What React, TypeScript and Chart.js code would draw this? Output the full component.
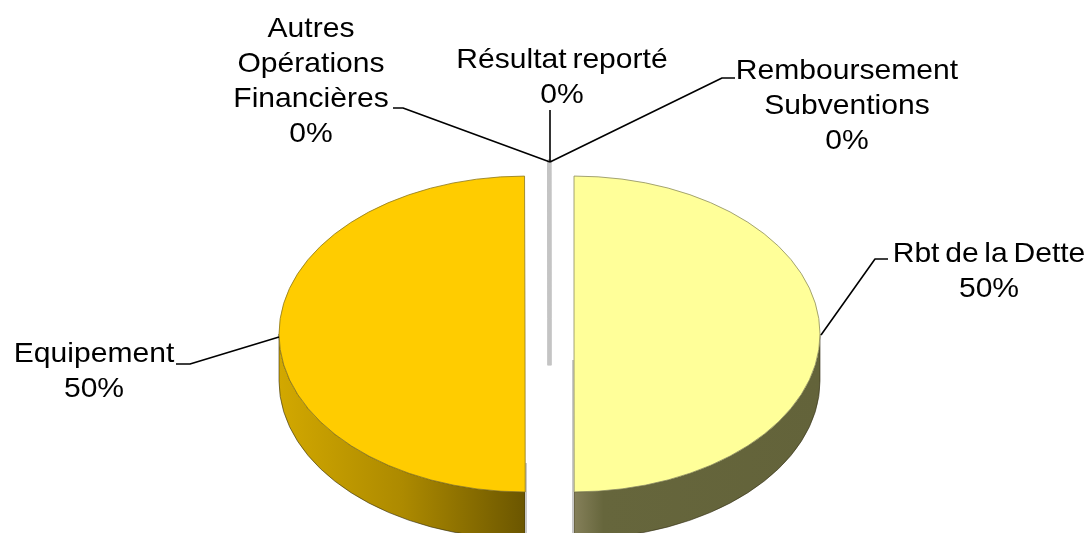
import React, { useEffect, useRef } from "react";
import { Chart, registerables } from "chart.js";

Chart.register(...registerables);

const categories = [
  ["Rbt de la Dette"],
  ["Equipement"],
  ["Autres", "Opérations", "Financières"],
  ["Résultat reporté"],
  ["Remboursement", "Subventions"],
];
const values = [50, 50, 0.01, 0.01, 0.01];
const faceColors = ["#FFFF99", "#FFCC00", "#C4C4C4", "#C4C4C4", "#C4C4C4"];
const edgeColors = ["#8f8f60", "#8f7a20", "#C4C4C4", "#C4C4C4", "#C4C4C4"];
const edgeWidths = [1, 1, 4, 4, 4];

// layout of the labels: centre x and first baseline, then the leader polyline
const labelX = [989, 94, 311, 562, 847];
const labelY = [262, 362, 37, 68, 79];
const leaders = [
  [[888, 259], [875, 259], [821, 335]],
  [[176, 364], [190, 364], [279, 337]],
  [[393, 108], [403, 108], [550, 162]],
  [[550, 110], [550, 162]],
  [[735, 78], [722, 78], [550, 162]],
];

const CENTER_Y = 334;
const SQUASH = 0.642;
const DEPTH = 47;
const EXPLODE = 24.5;
const RADIUS = 246;
const FONT_PX = 28.5;
const STRETCH = 1.055;
const LINE_GAP = 35;

const pie3d = {
  id: "pie3d",
  beforeDatasetDraw(chart: any) {
    const ctx = chart.ctx;
    const arcs = chart.getDatasetMeta(0).data;
    arcs.forEach((arc: any, i: number) => {
      const mid = (arc.startAngle + arc.endAngle) / 2;
      const X = arc.x + Math.cos(mid) * EXPLODE;
      const Y = CENTER_Y + Math.sin(mid) * EXPLODE * SQUASH;
      const rx = arc.outerRadius;
      const ry = rx * SQUASH;
      if (i >= 2) {
        ctx.fillStyle = faceColors[i];
        ctx.fillRect(X - 2, Y, 4, DEPTH);
      } else {
        const a0 = i === 0 ? 0 : Math.PI / 2;
        const a1 = i === 0 ? Math.PI / 2 : Math.PI;
        const grad = ctx.createLinearGradient(X - (i === 1 ? rx : 0), 0, X + (i === 0 ? rx : 0), 0);
        if (i === 0) {
          grad.addColorStop(0, "#85805a");
          grad.addColorStop(0.12, "#66663c");
          grad.addColorStop(1, "#63633a");
        } else {
          grad.addColorStop(0, "#d2a800");
          grad.addColorStop(0.5, "#ad8a00");
          grad.addColorStop(1, "#6b5600");
        }
        ctx.beginPath();
        ctx.ellipse(X, Y + DEPTH, rx, ry, 0, a0, a1);
        ctx.ellipse(X, Y, rx, ry, 0, a1, a0, true);
        ctx.closePath();
        ctx.fillStyle = grad;
        ctx.fill();
        ctx.strokeStyle = "rgba(50,45,20,0.6)";
        ctx.lineWidth = 1;
        ctx.stroke();
        // light cut edge of the exploded half
        ctx.fillStyle = "#c9c9c9";
        if (i === 0) ctx.fillRect(X - 2, Y + 26, 2, 200);
        else ctx.fillRect(X, Y + 129, 2, 100);
      }
      // the top face: the library's own arc, moved out and squashed
      ctx.save();
      ctx.translate(Math.cos(mid) * EXPLODE, Y);
      ctx.scale(1, SQUASH);
      ctx.translate(0, -arc.y);
      arc.draw(ctx);
      ctx.restore();
    });
    return false;
  },
  afterDraw(chart: any) {
    const ctx = chart.ctx;
    const total = values.reduce((a, b) => a + b, 0);
    ctx.save();
    ctx.strokeStyle = "#000";
    ctx.lineWidth = 1.6;
    ctx.lineJoin = "round";
    leaders.forEach((pts) => {
      ctx.beginPath();
      pts.forEach(([x, y], k) => (k ? ctx.lineTo(x, y) : ctx.moveTo(x, y)));
      ctx.stroke();
    });
    ctx.fillStyle = "#000";
    ctx.font = `${FONT_PX}px "Liberation Sans", Arial, sans-serif`;
    ctx.textAlign = "center";
    ctx.textBaseline = "alphabetic";
    ctx.wordSpacing = "-2.5px";
    categories.forEach((lines, i) => {
      const text = [...lines, `${Math.round((values[i] / total) * 100)}%`];
      text.forEach((t, k) => {
        ctx.save();
        ctx.translate(labelX[i], labelY[i] + k * LINE_GAP);
        ctx.scale(STRETCH, 1);
        ctx.fillText(t, 0, 0);
        ctx.restore();
      });
    });
    ctx.restore();
  },
};

export default function App() {
  const ref = useRef<HTMLCanvasElement | null>(null);
  useEffect(() => {
    const chart = new Chart(ref.current as HTMLCanvasElement, {
      type: "pie",
      data: {
        labels: categories.map((c) => c.join(" ")),
        datasets: [
          {
            data: values,
            backgroundColor: faceColors,
            borderColor: edgeColors,
            borderWidth: edgeWidths,
          },
        ],
      },
      options: {
        animation: false,
        responsive: false,
        radius: RADIUS,
        rotation: 0,
        layout: { padding: { left: 9 } },
        plugins: { legend: { display: false }, tooltip: { enabled: false } },
      } as any,
      plugins: [pie3d],
    });
    return () => chart.destroy();
  }, []);
  return (
    <div style={{ position: "fixed", left: 0, top: 0, width: 1090, height: 533, background: "#fff", overflow: "hidden" }}>
      <canvas ref={ref} width={1090} height={533} style={{ display: "block" }} />
    </div>
  );
}
